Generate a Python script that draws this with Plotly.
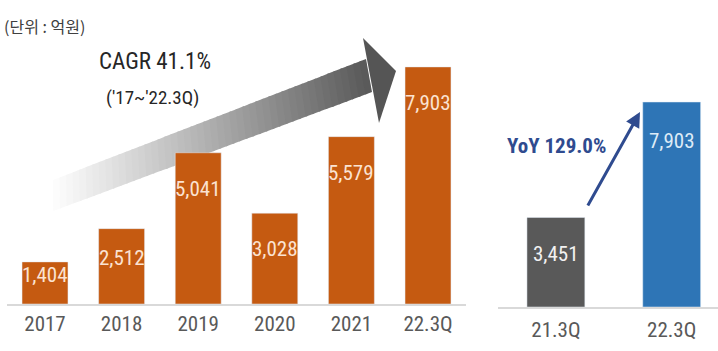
import plotly.graph_objects as go

# ---- data ----
years = ["2017", "2018", "2019", "2020", "2021", "22.3Q"]
sales = [1404, 2512, 5041, 3028, 5579, 7903]
quarters = ["21.3Q", "22.3Q"]
q_sales = [3451, 7903]
unit_label = "(단위 : 억원)"
cagr_label = "CAGR 41.1%"
cagr_period = "('17~'22.3Q)"
yoy_label = "YoY 129.0%"

W, H = 718, 351
def px(x): return x / W
def py(y): return 1 - y / H

NARROW = "Roboto Condensed, Liberation Sans Narrow, DejaVu Sans Condensed, sans-serif"
ORANGE = "#C55A11"
GRAY = "#595959"
BLUE = "#2E75B6"
NAVY = "#2F4B8F"

L_BASE, L_TOP = 304, 10
L_RANGE = 9800
R_BASE, R_TOP = 307, 10
R_RANGE = 11450

fig = go.Figure()
fig.add_trace(go.Bar(x=years, y=sales, marker_color=ORANGE, width=0.6,
                     xaxis="x", yaxis="y", hoverinfo="skip"))
fig.add_trace(go.Bar(x=quarters, y=q_sales, marker_color=[GRAY, BLUE], width=0.5,
                     xaxis="x2", yaxis="y2", hoverinfo="skip"))

annotations = []
l_scale = (L_BASE - L_TOP) / L_RANGE
for i, v in enumerate(sales):
    h = v * l_scale
    off = min(36, h / 2 - 8)
    annotations.append(dict(x=i, y=v, xref="x", yref="y", text=f"{v:,}", showarrow=False,
                            yanchor="middle", yshift=-off,
                            font=dict(family=NARROW, size=21, color="#FBE3D2")))
r_scale = (R_BASE - R_TOP) / R_RANGE
r_colors = ["#F2F2F2", "#DDEBF7"]
for i, (v, col) in enumerate(zip(q_sales, r_colors)):
    h = v * r_scale
    off = min(39, h / 2 - 8)
    annotations.append(dict(x=i, y=v, xref="x2", yref="y2", text=f"{v:,}", showarrow=False,
                            yanchor="middle", yshift=-off,
                            font=dict(family=NARROW, size=21, color=col)))

annotations += [
    dict(x=px(2), y=py(26), xref="paper", yref="paper", text=unit_label, showarrow=False,
         xanchor="left", yanchor="middle",
         font=dict(family="Noto Sans CJK KR", size=16, color="#404040")),
    dict(x=px(155), y=py(62), xref="paper", yref="paper", text=cagr_label, showarrow=False,
         xanchor="center", yanchor="middle",
         font=dict(family=NARROW, size=23, color="#262626")),
    dict(x=px(152), y=py(97), xref="paper", yref="paper", text=cagr_period, showarrow=False,
         xanchor="center", yanchor="middle",
         font=dict(family=NARROW, size=19, color="#262626")),
    dict(x=px(556), y=py(146), xref="paper", yref="paper", text=f"<b>{yoy_label}</b>", showarrow=False,
         xanchor="center", yanchor="middle",
         font=dict(family=NARROW, size=21, color=NAVY)),
    dict(x=px(640), y=py(112), xref="paper", yref="paper", text="", showarrow=True,
         ax=-53, ay=95, arrowhead=2, arrowsize=1, arrowwidth=3, arrowcolor=NAVY, standoff=0),
]

# big gradient arrow (decoration) built from slices
U0, U1 = (40, 185), (366, 59)
L0, L1 = (40, 216), (372, 92)
def lerp(a, b, t): return (a[0] + (b[0] - a[0]) * t, a[1] + (b[1] - a[1]) * t)
shapes = []
N = 50
for i in range(N):
    t0, t1 = i / N, min(1.0, (i + 1.3) / N)
    tm = (i + 0.5) / N
    k = max(0.0, min(1.0, (tm - 0.03) / 0.97)) ** 1.05
    g = int(round(255 - (255 - 88) * k))
    col = f"rgb({g},{g},{g})"
    pts = [lerp(U0, U1, t0), lerp(U0, U1, t1), lerp(L0, L1, t1), lerp(L0, L1, t0)]
    path = "M " + " L ".join(f"{px(x):.5f},{py(y):.5f}" for x, y in pts) + " Z"
    shapes.append(dict(type="path", path=path, xref="paper", yref="paper",
                       fillcolor=col, line=dict(width=0), layer="below"))
head = [(363, 38), (396, 71), (379, 123)]
path = "M " + " L ".join(f"{px(x):.5f},{py(y):.5f}" for x, y in head) + " Z"
shapes.append(dict(type="path", path=path, xref="paper", yref="paper",
                   fillcolor="rgb(85,85,85)", line=dict(width=0), layer="below"))

axis_common = dict(type="category", showline=True, linecolor="#D9D9D9", linewidth=2,
                   showgrid=False, zeroline=False, ticks="", fixedrange=True,
                   tickfont=dict(family=NARROW, size=21, color=GRAY))
fig.update_layout(
    width=W, height=H, margin=dict(l=0, r=0, t=0, b=0),
    paper_bgcolor="white", plot_bgcolor="rgba(0,0,0,0)",
    showlegend=False,
    xaxis=dict(domain=[px(6.7), px(466.3)], range=[-0.5, 5.5], anchor="y", **axis_common),
    yaxis=dict(domain=[py(L_BASE), py(L_TOP)], range=[0, L_RANGE], visible=False, fixedrange=True),
    xaxis2=dict(domain=[px(498), 1.0], range=[-0.5, 1.4], anchor="y2", ticklabelstandoff=3, **axis_common),
    yaxis2=dict(domain=[py(R_BASE), py(R_TOP)], range=[0, R_RANGE], visible=False, fixedrange=True),
    annotations=annotations, shapes=shapes,
)
fig.write_html("out.html")
